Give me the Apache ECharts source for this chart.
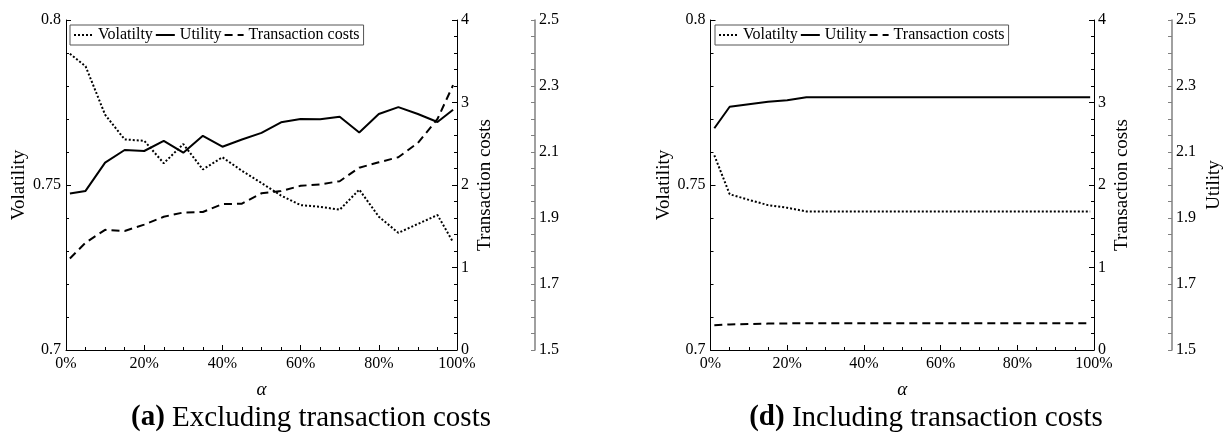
<!DOCTYPE html>
<html>
<head>
<meta charset="utf-8">
<script src="https://cdn.jsdelivr.net/npm/echarts@6/dist/echarts.min.js"></script>
<style>
  html, body { margin: 0; padding: 0; background: #fff; }
  #chart { width: 1225px; height: 435px; }
</style>
</head>
<body>
<div id="chart"></div>
<script>
// alpha values (x, in %)
const alpha = [1, 5, 10, 15, 20, 25, 30, 35, 40, 45, 50, 55, 60, 65, 70, 75, 80, 85, 90, 95, 99];

// (a) excluding transaction costs
const volExcl = [0.7898, 0.7860, 0.7713, 0.7638, 0.7634, 0.7566, 0.7624, 0.7547, 0.7584, 0.7543, 0.7506,
                 0.7468, 0.7439, 0.7434, 0.7425, 0.7486, 0.7404, 0.7355, 0.7382, 0.7409, 0.7327];
const utilExcl = [1.974, 1.982, 2.068, 2.106, 2.103, 2.134, 2.098, 2.149, 2.116, 2.138, 2.158,
                  2.190, 2.200, 2.199, 2.207, 2.159, 2.215, 2.236, 2.215, 2.191, 2.228];
const tcExcl = [1.11, 1.30, 1.457, 1.443, 1.52, 1.615, 1.667, 1.673, 1.768, 1.774, 1.90,
                1.927, 1.99, 2.008, 2.046, 2.21, 2.275, 2.337, 2.51, 2.80, 3.21];

// (d) including transaction costs
const volIncl = [0.7590, 0.7472, 0.7455, 0.7439, 0.7431, 0.7420, 0.7420, 0.7420, 0.7420, 0.7420, 0.7420,
                 0.7420, 0.7420, 0.7420, 0.7420, 0.7420, 0.7420, 0.7420, 0.7420, 0.7420, 0.7420];
const utilIncl = [2.172, 2.237, 2.245, 2.252, 2.257, 2.266, 2.266, 2.266, 2.266, 2.266, 2.266,
                  2.266, 2.266, 2.266, 2.266, 2.266, 2.266, 2.266, 2.266, 2.266, 2.266];
const tcIncl = [0.300, 0.310, 0.315, 0.320, 0.322, 0.325, 0.325, 0.325, 0.325, 0.325, 0.325,
                0.325, 0.325, 0.325, 0.325, 0.325, 0.325, 0.325, 0.325, 0.325, 0.325];

const seriesNames = ['Volatilty', 'Utility', 'Transaction costs'];
const captions = ['(a)', 'Excluding transaction costs', '(d)', 'Including transaction costs'];

const FONT = 'Liberation Serif';
const grids = [
  { left: 66, top: 20, width: 391, height: 330 },
  { left: 710.5, top: 20, width: 390.5, height: 330 }
];

const pairs = (ys) => alpha.map((a, i) => [a, ys[i]]);

const tickLabel = { color: '#000', fontFamily: FONT, fontSize: 16 };
const blackLine = { lineStyle: { color: '#000', width: 1 } };

function xAxisFor(gi) {
  return {
    type: 'value', gridIndex: gi, min: 0, max: 100, interval: 20,
    name: 'α', nameLocation: 'middle', nameGap: 30,
    nameTextStyle: { fontFamily: FONT, fontStyle: 'italic', fontSize: 19, color: '#000' },
    axisLine: blackLine,
    axisTick: { inside: true, length: 5, lineStyle: { color: '#000' } },
    minorTick: { show: true, splitNumber: 4, length: 3, lineStyle: { color: '#000' } },
    axisLabel: Object.assign({ margin: 6, formatter: '{value}%' }, tickLabel),
    splitLine: { show: false }
  };
}

function yAxesFor(gi) {
  return [
    {
      type: 'value', gridIndex: gi, position: 'left', min: 0.7, max: 0.8, interval: 0.05,
      name: 'Volatility', nameLocation: 'middle', nameGap: 37,
      nameTextStyle: { fontFamily: FONT, fontSize: 19, color: '#000' },
      axisLine: { show: true, lineStyle: { color: '#000', width: 1 } },
      axisTick: { show: true, inside: true, length: 5, lineStyle: { color: '#000' } },
      minorTick: { show: true, splitNumber: 5, length: 3, lineStyle: { color: '#000' } },
      axisLabel: Object.assign({ margin: 5 }, tickLabel),
      splitLine: { show: false }
    },
    {
      type: 'value', gridIndex: gi, position: 'right', min: 0, max: 4, interval: 1,
      name: 'Transaction costs', nameLocation: 'middle', nameGap: 19,
      nameTextStyle: { fontFamily: FONT, fontSize: 19, color: '#000' },
      axisLine: { show: true, lineStyle: { color: '#000', width: 1 } },
      axisTick: { show: true, inside: true, length: 5, lineStyle: { color: '#000' } },
      minorTick: { show: true, splitNumber: 5, length: 3, lineStyle: { color: '#000' } },
      axisLabel: Object.assign({ margin: 4 }, tickLabel),
      splitLine: { show: false }
    },
    {
      type: 'value', gridIndex: gi, position: 'right', offset: 78, min: 1.5, max: 2.5, interval: 0.05,
      name: gi === 1 ? 'Utility' : '', nameLocation: 'middle', nameGap: 33,
      nameTextStyle: { fontFamily: FONT, fontSize: 19, color: '#000' },
      axisLine: { show: true, lineStyle: { color: '#808080', width: 1.5 } },
      axisTick: { show: true, inside: true, length: 4, lineStyle: { color: '#808080' } },
      axisLabel: Object.assign({
        margin: 4,
        formatter: function (v) {
          const k = (v - 1.5) / 0.2;
          return Math.abs(k - Math.round(k)) < 1e-6 ? v.toFixed(1) : '';
        }
      }, tickLabel),
      splitLine: { show: false }
    }
  ];
}

function seriesFor(gi, vol, util, tc) {
  const base = {
    type: 'line', xAxisIndex: gi, symbol: 'none', silent: true, animation: false,
    itemStyle: { color: '#000', opacity: 0 }
  };
  return [
    Object.assign({}, base, { name: seriesNames[0], yAxisIndex: gi * 3, data: pairs(vol),
      lineStyle: { color: '#000', width: 2, type: [2, 2] } }),
    Object.assign({}, base, { name: seriesNames[1], yAxisIndex: gi * 3 + 2, data: pairs(util),
      lineStyle: { color: '#000', width: 2 } }),
    Object.assign({}, base, { name: seriesNames[2], yAxisIndex: gi * 3 + 1, data: pairs(tc),
      lineStyle: { color: '#000', width: 2, type: [8, 5] } })
  ];
}

function legendFor(left) {
  return {
    data: seriesNames, left: left, top: 25, orient: 'horizontal',
    itemWidth: 19, itemHeight: 14, itemGap: 2, padding: [2, 4, 2, 3],
    borderColor: '#555', borderWidth: 1, borderRadius: 0,
    selectedMode: false,
    itemStyle: { opacity: 0 },
    textStyle: { fontFamily: FONT, fontSize: 16, color: '#000' }
  };
}

function caption(x, tag, text) {
  return {
    type: 'text', x: x, y: 418,
    style: {
      text: '{b|' + tag + '} ' + text,
      align: 'center', verticalAlign: 'middle',
      fontFamily: FONT, fontSize: 29, fill: '#000',
      rich: { b: { fontFamily: FONT, fontSize: 29, fontWeight: 'bold' } }
    }
  };
}

const chart = echarts.init(document.getElementById('chart'), null, { renderer: 'canvas' });
chart.setOption({
  animation: false,
  backgroundColor: '#fff',
  grid: grids,
  xAxis: [xAxisFor(0), xAxisFor(1)],
  yAxis: yAxesFor(0).concat(yAxesFor(1)),
  legend: [legendFor(70), legendFor(715)],
  series: seriesFor(0, volExcl, utilExcl, tcExcl).concat(seriesFor(1, volIncl, utilIncl, tcIncl)),
  graphic: [
    caption(311, captions[0], captions[1]),
    caption(926, captions[2], captions[3])
  ]
});
</script>
</body>
</html>
